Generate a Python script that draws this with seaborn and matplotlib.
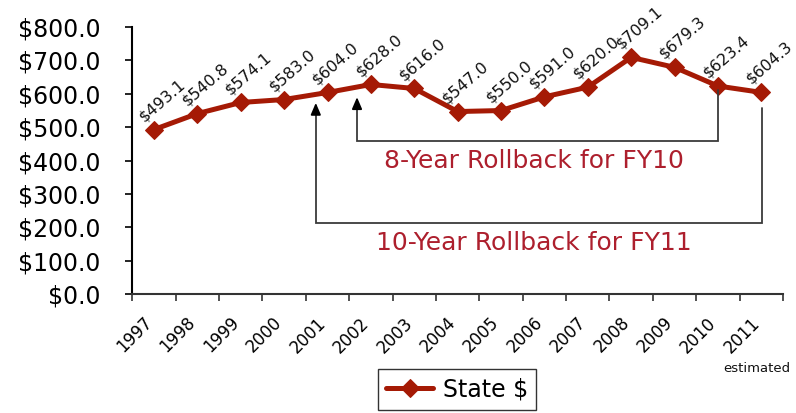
import matplotlib
matplotlib.use("Agg")
import matplotlib.pyplot as plt
import matplotlib.transforms as mtransforms
import seaborn as sns
import pandas as pd
from matplotlib.ticker import FixedLocator

years = ["1997", "1998", "1999", "2000", "2001", "2002", "2003", "2004",
         "2005", "2006", "2007", "2008", "2009", "2010", "2011"]
state_dollars = [493.1, 540.8, 574.1, 583.0, 604.0, 628.0, 616.0, 547.0,
                 550.0, 591.0, 620.0, 709.1, 679.3, 623.4, 604.3]
y_ticks = [0, 100, 200, 300, 400, 500, 600, 700, 800]

LINE = "#A51A05"
TXT_RED = "#AD1F2D"
ARROW = "#3a3a3a"

sns.set_style("white")
plt.rcParams["font.family"] = ["DejaVu Sans"]
plt.rcParams["text.color"] = "black"
plt.rcParams["xtick.color"] = "black"
plt.rcParams["ytick.color"] = "black"
plt.rcParams["xtick.labelcolor"] = "black"
plt.rcParams["ytick.labelcolor"] = "black"

df = pd.DataFrame({"Year": years, "State $": state_dollars})
df["idx"] = range(len(years))

fig = plt.figure(figsize=(7.96, 4.13), dpi=100)
ax = fig.add_axes([0.1662, 0.2874, 0.9837 - 0.1662, 0.9346 - 0.2874])

sns.lineplot(data=df, x="idx", y="State $", ax=ax, color=LINE, linewidth=3.6,
             marker="D", markersize=9.5, markeredgecolor=LINE, label="State $",
             legend=False)

ax.set_xlim(-0.5, len(years) - 0.5)
ax.set_ylim(0, 800)
ax.set_xlabel("")
ax.set_ylabel("")

# y axis
ax.set_yticks(y_ticks)
ax.set_yticklabels([f"${v:.1f}" for v in y_ticks], fontsize=17)
ax.tick_params(axis="y", which="major", direction="out", length=5, width=1.2,
               color="black", left=True, pad=18)

# x axis: tick marks between categories, labels at centers
ax.xaxis.set_major_locator(FixedLocator([i - 0.5 for i in range(len(years) + 1)]))
ax.xaxis.set_minor_locator(FixedLocator(list(range(len(years)))))
ax.set_xticklabels([""] * (len(years) + 1))
ax.set_xticklabels(years, minor=True, rotation=45, ha="right",
                   rotation_mode="anchor", fontsize=12)
ax.tick_params(axis="x", which="major", direction="out", length=5, width=1.2,
               color="#333333", bottom=True)
ax.tick_params(axis="x", which="minor", length=0, pad=14)
shift = mtransforms.ScaledTranslation(-11 / 100, 0, fig.dpi_scale_trans)
for lab in ax.xaxis.get_minorticklabels():
    lab.set_transform(lab.get_transform() + shift)

for s in ["top", "right"]:
    ax.spines[s].set_visible(False)
ax.spines["left"].set_color("black")
ax.spines["left"].set_linewidth(1.5)
ax.spines["bottom"].set_color("#333333")
ax.spines["bottom"].set_linewidth(1.5)
ax.grid(False)

# data labels
for i, v in enumerate(state_dollars):
    ax.annotate(f"${v:.1f}", (i, v), xytext=(-6, 4), textcoords="offset points",
                rotation=41, rotation_mode="anchor", ha="left", va="bottom",
                fontsize=11.5, color="#111111")

# rollback brackets
def bracket(x_from, y_from, x_to, y_tip, y_bar):
    ax.plot([x_from, x_from, x_to, x_to], [y_from, y_bar, y_bar, y_tip - 15],
            color=ARROW, linewidth=1.3, solid_joinstyle="miter")
    ax.annotate("", xy=(x_to, y_tip), xytext=(x_to, y_tip - 16),
                arrowprops=dict(arrowstyle="-|>,head_length=0.7,head_width=0.3",
                                color="black", lw=1.3, shrinkA=0, shrinkB=0))

bracket(13, 611, 4.68, 590, 458)
bracket(14.02, 557, 3.73, 573, 213)

ax.text(8.76, 398, "8-Year Rollback for FY10", ha="center", va="center",
        fontsize=18, color=TXT_RED)
ax.text(8.76, 155, "10-Year Rollback for FY11", ha="center", va="center",
        fontsize=18, color=TXT_RED)

fig.text(757 / 796, 1 - 368 / 413, "estimated", ha="center", va="center",
         fontsize=9.5, color="#111111")

leg = fig.legend(loc="upper center", bbox_to_anchor=(457 / 796, 1 - 369 / 413),
                 fontsize=17, frameon=True, fancybox=False, handlelength=2.0,
                 borderpad=0.35, handletextpad=0.4, borderaxespad=0)
leg.get_frame().set_edgecolor("black")
leg.get_frame().set_linewidth(1.0)

fig.savefig("out.png", dpi=100)
